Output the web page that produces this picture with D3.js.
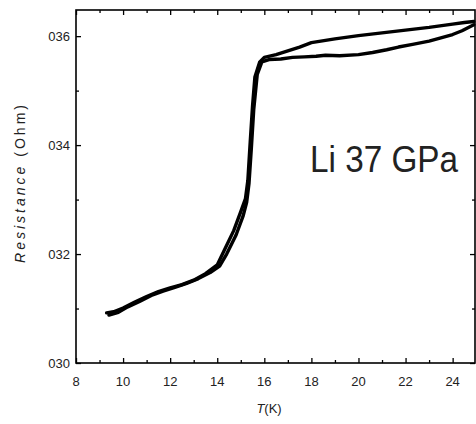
<!DOCTYPE html>
<html>
<head>
<meta charset="utf-8">
<script src="https://cdn.jsdelivr.net/npm/d3@7"></script>
<style>
  body { margin: 0; background: #fff; }
  text { font-family: "Liberation Sans", Arial, sans-serif; fill: #222; }
</style>
</head>
<body>
<svg id="chart"></svg>
<script>
const svg_width = 476;
const svg_height = 424;

var margin = { top: 10, right: 1, bottom: 61, left: 76 };

var width = svg_width - margin.left - margin.right;
var height = svg_height - margin.top - margin.bottom;

// data
var x_major = [8, 10, 12, 14, 16, 18, 20, 22, 24];
var x_minor = [9, 11, 13, 15, 17, 19, 21, 23];
var y_major = [0.30, 0.32, 0.34, 0.36];
var y_labels = ["030", "032", "034", "036"];
var y_minor = [0.31, 0.33, 0.35];

// trace 1 (upper branch above 18 K)
var t_up = [9.3, 9.6, 10.0, 10.5, 11.0, 11.5, 12.0, 12.5, 13.0, 13.5, 14.0, 14.3, 14.7, 15.0, 15.2,
            15.3, 15.4, 15.5, 15.6, 15.8, 16.0, 16.5, 17.0, 17.5, 18.0, 19.0, 20.0, 21.0, 22.0, 23.0, 24.0, 24.5, 24.9];
var r_up = [0.3092, 0.3094, 0.3101, 0.3112, 0.3122, 0.3131, 0.3138, 0.3144, 0.3152, 0.3164, 0.3180, 0.3207, 0.3243, 0.3278, 0.3302,
            0.3335, 0.3405, 0.3472, 0.3525, 0.3552, 0.3561, 0.3566, 0.3573, 0.3580, 0.3588, 0.3595, 0.3601, 0.3606, 0.3611, 0.3616, 0.3622, 0.3625, 0.3627];

// trace 2 (lower branch above 18 K)
var t_dn = [9.4, 9.8, 10.2, 10.7, 11.2, 11.7, 12.2, 12.7, 13.2, 13.7, 14.1, 14.4, 14.8, 15.1, 15.25,
            15.35, 15.45, 15.55, 15.7, 15.9, 16.2, 16.7, 17.2, 17.7, 18.2, 18.6, 19.2, 20.0, 20.6, 21.2, 21.7, 22.3, 23.0, 23.5, 24.0, 24.4, 24.9];
var r_dn = [0.3088, 0.3093, 0.3103, 0.3113, 0.3124, 0.3132, 0.3139, 0.3146, 0.3155, 0.3166, 0.3178, 0.3200, 0.3235, 0.3270, 0.3295,
            0.3330, 0.3395, 0.3465, 0.3530, 0.3553, 0.3557, 0.3558, 0.3561, 0.3562, 0.3563, 0.3565, 0.3564, 0.3566, 0.3570, 0.3575, 0.3580, 0.3585, 0.3591, 0.3597, 0.3603, 0.3610, 0.3621];

var svg = d3.select("svg#chart")
    .attr("width", svg_width)
    .attr("height", svg_height);

var x = d3.scaleLinear().domain([8, 24.95]).range([0, width]);
var y = d3.scaleLinear().domain([0.30, 0.3648]).range([height, 0]);

var g = svg.append("g").attr("transform", translate(margin.left, margin.top));

// inward ticks on all four sides
function ticks(axis, vals, len) {
  return axis.tickValues(vals).tickSize(len).tickFormat("");
}

g.append("g").attr("class", "x-axis")
  .attr("transform", translate(0, height))
  .call(ticks(d3.axisTop(x), x_major, 5));
g.append("g").attr("class", "x-minor")
  .attr("transform", translate(0, height))
  .call(ticks(d3.axisTop(x), x_minor, 3));
g.append("g").call(ticks(d3.axisBottom(x), x_major, 5));
g.append("g").call(ticks(d3.axisBottom(x), x_minor, 3));

g.append("g").attr("class", "y-axis")
  .call(ticks(d3.axisRight(y), y_major, 5));
g.append("g").call(ticks(d3.axisRight(y), y_minor, 3));
g.append("g").attr("transform", translate(width, 0))
  .call(ticks(d3.axisLeft(y), y_major, 5));
g.append("g").attr("transform", translate(width, 0))
  .call(ticks(d3.axisLeft(y), y_minor, 3));

g.selectAll(".domain").remove();
g.selectAll(".tick line").attr("stroke", "#000").attr("stroke-width", 1.3);

g.append("rect")
  .attr("width", width)
  .attr("height", height)
  .attr("fill", "none")
  .attr("stroke", "#000")
  .attr("stroke-width", 1.6);

// tick labels
g.selectAll(".xl").data(x_major).enter().append("text")
  .attr("x", d => x(d))
  .attr("y", height + 23)
  .attr("text-anchor", "middle")
  .style("font-size", "13px")
  .text(d => d);

g.selectAll(".yl").data(y_major).enter().append("text")
  .attr("x", -6)
  .attr("y", d => y(d) + 5)
  .attr("text-anchor", "end")
  .style("font-size", "13px")
  .text((d, i) => y_labels[i]);

// curves
var line = d3.line().x(d => x(d[0])).y(d => y(d[1]));

[[t_up, r_up], [t_dn, r_dn]].forEach(s => {
  var pts = s[0].map((t, i) => [t, s[1][i]]);
  g.append("path")
    .datum(pts)
    .attr("d", line)
    .attr("fill", "none")
    .attr("stroke", "#000")
    .attr("stroke-width", 3.4)
    .attr("stroke-linejoin", "round")
    .attr("stroke-linecap", "round");
});

// annotation
g.append("text")
  .attr("x", 234)
  .attr("y", 162)
  .attr("textLength", 148)
  .attr("lengthAdjust", "spacingAndGlyphs")
  .style("font-size", "36px")
  .text("Li 37 GPa");

// axis titles
var yt = svg.append("text")
  .attr("transform", "translate(25," + (margin.top + 174) + ") rotate(-90)")
  .attr("text-anchor", "middle")
  .attr("textLength", 158)
  .style("font-size", "14px");
yt.append("tspan").style("font-style", "italic").text("Resistance");
yt.append("tspan").text(" (Ohm)");

var xt = svg.append("text")
  .attr("x", margin.left + x(16.2))
  .attr("y", 413)
  .attr("text-anchor", "middle")
  .style("font-size", "13px");
xt.append("tspan").style("font-style", "italic").text("T");
xt.append("tspan").text("(K)");

function translate(x, y) {
  return 'translate(' + String(x) + ',' + String(y) + ')';
}
</script>
</body>
</html>
